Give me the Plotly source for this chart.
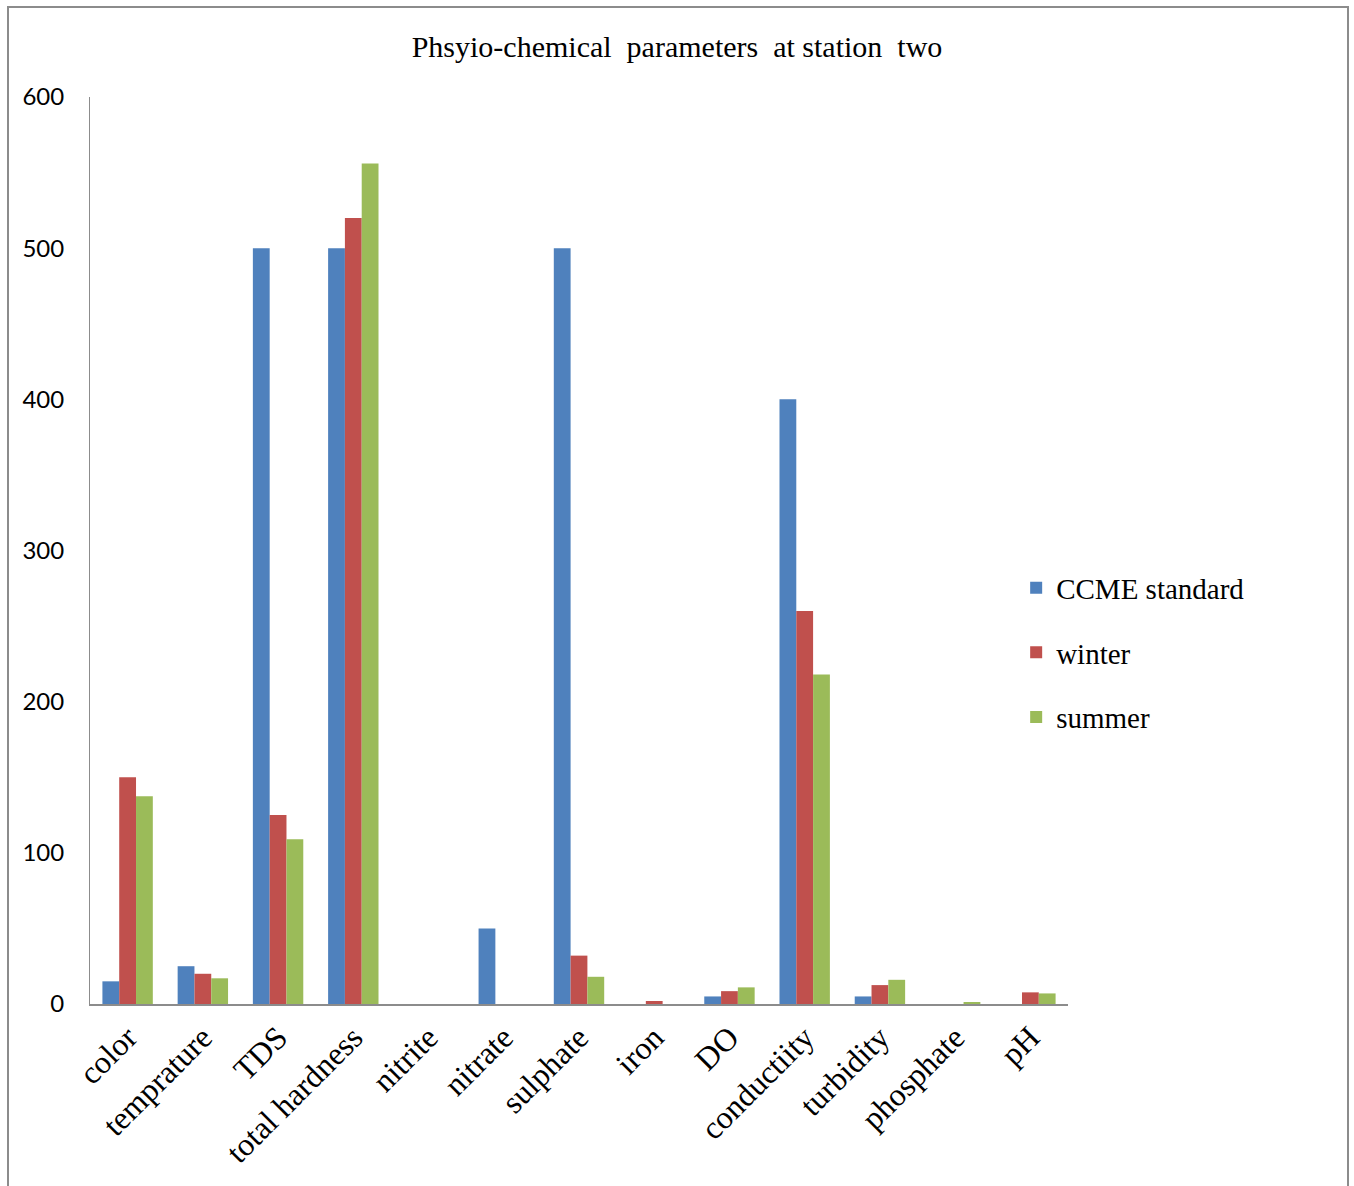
import plotly.graph_objects as go

# Parameters measured at station two
categories = ["color", "temprature", "TDS", "total hardness", "nitrite", "nitrate",
              "sulphate", "iron", "DO", "conductiity", "turbidity", "phosphate", "pH"]
ccme_standard = [15, 25, 500, 500, 0, 50, 500, 0, 5, 400, 5, 0, 0]
winter = [150, 20, 125, 520, 0, 0, 32, 2, 8.5, 260, 12.5, 0, 7.7]
summer = [137.5, 17, 109, 556, 0, 0, 18, 0, 11, 218, 16, 1.3, 7]

y_ticks = [0, 100, 200, 300, 400, 500, 600]

series = [
    ("CCME standard", ccme_standard, "#4F81BD"),
    ("winter", winter, "#C0504D"),
    ("summer", summer, "#9BBB59"),
]

fig = go.Figure()
for i, (name, vals, color) in enumerate(series):
    fig.add_trace(go.Bar(
        x=categories, y=vals, name=name, legendgroup=f"g{i}",
        marker=dict(color=color, line=dict(width=0)),
    ))

serif = "Liberation Serif, Times New Roman, serif"

fig.update_layout(
    width=1354, height=1186,
    margin=dict(l=90, r=286, t=97, b=182),
    paper_bgcolor="white", plot_bgcolor="white",
    barmode="group", bargap=0.33, bargroupgap=0,
    title=dict(text="Phsyio-chemical  parameters  at station  two",
               x=0.5, xref="container", xanchor="center",
               y=1 - 46 / 1186, yref="container", yanchor="middle",
               font=dict(family=serif, size=30, color="black")),
    legend=dict(x=0.947, xanchor="left", y=0.487, yanchor="top",
                font=dict(family=serif, size=29, color="black"),
                traceorder="grouped", tracegroupgap=24,
                bgcolor="rgba(0,0,0,0)"),
    showlegend=True,
    xaxis=dict(showline=True, linecolor="#8C8C8C", linewidth=2,
               tickangle=-45, tickfont=dict(family=serif, size=32, color="black"),
               showgrid=False, ticks=""),
    yaxis=dict(range=[0, 600], tickvals=y_ticks, showline=True,
               linecolor="#8C8C8C", linewidth=1, showgrid=False, zeroline=False,
               ticks="", ticklabelstandoff=20,
               tickfont=dict(family="Lato, Carlito, sans-serif", size=24, color="black")),
    shapes=[dict(type="rect", xref="paper", yref="paper",
                 x0=(8 - 90) / 978, x1=(1348 - 90) / 978,
                 y0=(1004 - 1192) / 907, y1=(1004 - 7) / 907,
                 line=dict(color="#8C8C8C", width=2), fillcolor="rgba(0,0,0,0)",
                 layer="below")],
)

fig.write_html("out.html")
